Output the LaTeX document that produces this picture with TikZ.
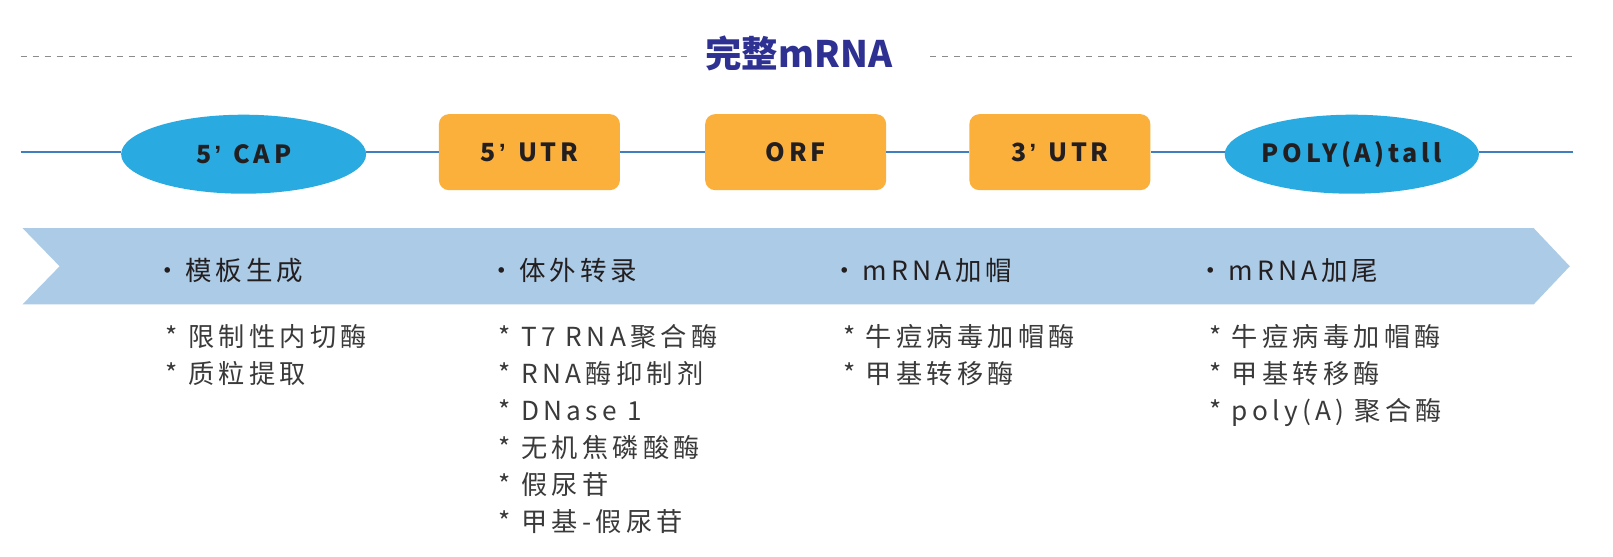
\documentclass[tikz,border=0pt]{standalone}
\usepackage{fontspec}
\setmainfont{Noto Sans CJK SC}
\newfontfamily\titlefont{Noto Sans CJK SC}
\newfontfamily\labelfont[LetterSpace=14.6]{Noto Sans CJK SC}
\newfontfamily\quotefont{Liberation Sans}
\newfontfamily\headfont[LetterSpace=15]{Noto Sans CJK SC}
\newfontfamily\listfont[LetterSpace=16.5]{Noto Sans CJK SC}
\newcommand{\myquote}{\kern3pt{\quotefont\bfseries ’}\kern3pt}
\definecolor{capblue}{HTML}{29ABE2}
\definecolor{utrorange}{HTML}{FBB03B}
\definecolor{bandblue}{HTML}{ACCBE6}
\definecolor{linecol}{HTML}{3F7FBF}
\definecolor{titlecol}{HTML}{2E3192}
\definecolor{textdark}{HTML}{231F20}
\definecolor{listcol}{HTML}{3A3A3A}
\definecolor{dashgray}{HTML}{8C8C8C}
\usetikzlibrary{shapes.geometric}
\tikzset{
  titlenode/.style={inner sep=0pt, text=titlecol, font=\titlefont\bfseries\fontsize{36.5}{42}\selectfont},
  dashrule/.style={draw=dashgray, line width=1.5pt, dash pattern=on 6pt off 6pt},
  mainline/.style={draw=linecol, line width=1.3pt},
  ellnode/.style={ellipse, fill=capblue, minimum width=245pt, minimum height=79pt, inner sep=0pt, text=textdark, font=\labelfont\bfseries\fontsize{25}{30}\selectfont},
  boxnode/.style={rectangle, rounded corners=10pt, fill=utrorange, minimum width=181pt, minimum height=76pt, inner sep=0pt, text=textdark, font=\labelfont\bfseries\fontsize{25}{30}\selectfont},
  headnode/.style={anchor=west, inner sep=0pt, text=textdark, font=\headfont\fontsize{26.5}{30}\selectfont},
  listnode/.style={anchor=base west, inner sep=0pt, text=listcol, font=\listfont\fontsize{26.2}{31}\selectfont},
}
\begin{document}
\begin{tikzpicture}[x=1.028pt,y=-1.028pt]
\path[use as bounding box, fill=white] (0,0) rectangle (1569.07,540.86);
% title and dashed rules
\node[titlenode] (title) at (777,52) {完整mRNA};
\coordinate (dl1) at (20,55);
\coordinate (dl2) at (668,55);
\coordinate (dr1) at (905,55);
\coordinate (dr2) at (1532,55);
\draw[dashrule] (dl1) -- (dl2);
\draw[dashrule] (dr1) -- (dr2);
% main line and elements
\coordinate (lstart) at (20,148);
\coordinate (lend) at (1530,148);
\node[ellnode] (cap) at (237,150) {5\myquote{} CAP};
\node[boxnode] (utr5) at (515,148) {5\myquote{} UTR};
\node[boxnode] (orf) at (774,148) {ORF};
\node[boxnode] (utr3) at (1031,148) {3\myquote{} UTR};
\node[ellnode] (poly) at (1315,150) {POLY(A)tall};
\draw[mainline] (lstart) -- (cap.west |- lstart);
\draw[mainline] (cap.east |- lstart) -- (utr5.west);
\draw[mainline] (utr5.east) -- (orf.west);
\draw[mainline] (orf.east) -- (utr3.west);
\draw[mainline] (utr3.east) -- (poly.west |- lend);
\draw[mainline] (poly.east |- lend) -- (lend);
% band
\fill[bandblue] (22,222) -- (1492,222) -- (1527,259) -- (1492,296) -- (22,296) -- (58,259) -- cycle;
\node[headnode] (h1) at (150,263) {·\,模板生成};
\node[headnode] (h2) at (475,263) {·\,体外转录};
\node[headnode] (h3) at (809,263) {·\,mRNA加帽};
\node[headnode] (h4) at (1165,263) {·\,mRNA加尾};
% lists
\foreach \t [count=\i] in {* 限制性内切酶, * 质粒提取}
  \node[listnode] (a\i) at (161,{337+36*(\i-1)}) {\t};
\foreach \t [count=\i] in {* T7 RNA聚合酶, * RNA酶抑制剂, * DNase 1, * 无机焦磷酸酶, * 假尿苷, * 甲基-假尿苷}
  \node[listnode] (b\i) at (485,{337+36*(\i-1)}) {\t};
\foreach \t [count=\i] in {* 牛痘病毒加帽酶, * 甲基转移酶}
  \node[listnode] (c\i) at (820,{337+36*(\i-1)}) {\t};
\foreach \t [count=\i] in {* 牛痘病毒加帽酶, * 甲基转移酶, * poly(A) 聚合酶}
  \node[listnode] (d\i) at (1176,{337+36*(\i-1)}) {\t};
\end{tikzpicture}
\end{document}
